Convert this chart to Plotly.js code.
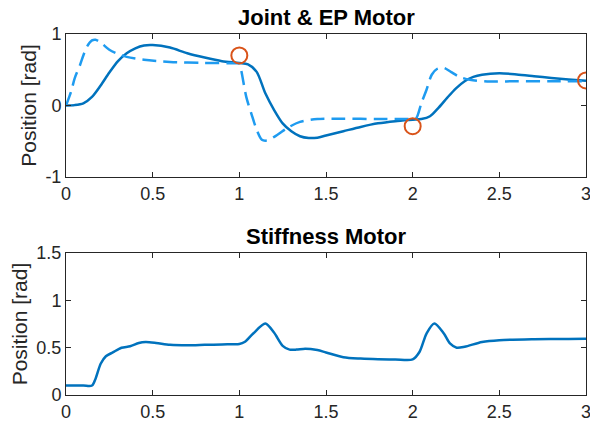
<!DOCTYPE html>
<html>
<head>
<meta charset="utf-8">
<script src="https://cdn.plot.ly/plotly-3.0.1.min.js"></script>
<style>html,body{margin:0;padding:0;background:#fff;}#chart{width:590px;height:427px;}</style>
</head>
<body>
<div id="chart"></div>
<script>
// Top subplot: joint position (solid)
const jointX = [0, 0.05, 0.1, 0.15, 0.2, 0.25, 0.3, 0.35, 0.4, 0.45, 0.5, 0.6, 0.7, 0.8, 0.9, 1.0, 1.05, 1.1, 1.15, 1.2, 1.25, 1.3, 1.35, 1.4, 1.45, 1.5, 1.6, 1.7, 1.8, 1.9, 2.0, 2.05, 2.1, 2.15, 2.2, 2.25, 2.3, 2.35, 2.4, 2.5, 2.6, 2.7, 2.8, 2.9, 3.0];
const jointY = [0, 0.005, 0.03, 0.12, 0.28, 0.46, 0.62, 0.73, 0.8, 0.84, 0.846, 0.81, 0.73, 0.67, 0.62, 0.595, 0.575, 0.47, 0.17, -0.06, -0.25, -0.36, -0.43, -0.455, -0.45, -0.42, -0.36, -0.3, -0.25, -0.22, -0.2, -0.19, -0.15, -0.03, 0.11, 0.24, 0.34, 0.4, 0.43, 0.45, 0.435, 0.41, 0.385, 0.365, 0.345];
// Top subplot: equilibrium-point motor (dashed)
const epX = [0, 0.03, 0.05, 0.08, 0.1, 0.12, 0.15, 0.17, 0.2, 0.25, 0.3, 0.35, 0.45, 0.6, 0.8, 0.98, 1.0, 1.01, 1.04, 1.07, 1.1, 1.13, 1.16, 1.22, 1.28, 1.35, 1.45, 1.6, 1.8, 1.95, 2.0, 2.02, 2.05, 2.08, 2.11, 2.14, 2.18, 2.22, 2.27, 2.33, 2.43, 2.6, 2.8, 3.0];
const epY = [0, 0.2, 0.38, 0.56, 0.7, 0.82, 0.91, 0.92, 0.88, 0.78, 0.72, 0.68, 0.64, 0.61, 0.595, 0.59, 0.585, 0.5, 0.12, -0.12, -0.34, -0.48, -0.49, -0.41, -0.31, -0.23, -0.19, -0.185, -0.19, -0.19, -0.19, -0.18, 0.03, 0.22, 0.43, 0.51, 0.525, 0.47, 0.4, 0.36, 0.335, 0.34, 0.34, 0.34];
// Top subplot: target points (circles)
const targetX = [1, 2, 3];
const targetY = [0.7, -0.29, 0.35];
// Bottom subplot: stiffness motor
const stiffX = [0, 0.1, 0.15, 0.17, 0.2, 0.23, 0.27, 0.32, 0.37, 0.42, 0.46, 0.52, 0.6, 0.7, 0.8, 0.9, 1.0, 1.03, 1.08, 1.15, 1.2, 1.25, 1.29, 1.33, 1.38, 1.45, 1.5, 1.6, 1.7, 1.8, 1.9, 2.0, 2.04, 2.08, 2.125, 2.18, 2.215, 2.254, 2.3, 2.4, 2.5, 2.7, 2.9, 3.0];
const stiffY = [0.1, 0.1, 0.1, 0.17, 0.33, 0.41, 0.45, 0.5, 0.515, 0.55, 0.56, 0.55, 0.53, 0.525, 0.53, 0.535, 0.54, 0.56, 0.65, 0.756, 0.66, 0.52, 0.48, 0.48, 0.49, 0.475, 0.45, 0.4, 0.385, 0.378, 0.376, 0.376, 0.457, 0.65, 0.756, 0.65, 0.545, 0.5, 0.51, 0.56, 0.58, 0.59, 0.593, 0.595];

const xTicks = [0, 0.5, 1, 1.5, 2, 2.5, 3];
const xTickText = ['0', '0.5', '1', '1.5', '2', '2.5', '3'];
const yTopTicks = [-1, 0, 1];
const yTopText = ['-1', '0', '1'];
const yBotTicks = [0, 0.5, 1, 1.5];
const yBotText = ['0', '0.5', '1', '1.5'];

const FONT = 'Liberation Sans, Arial, Helvetica, sans-serif';
const AX = '#262626';

const traces = [
  {x: jointX, y: jointY, xaxis: 'x', yaxis: 'y', mode: 'lines',
   line: {color: '#0072BD', width: 2.5, shape: 'spline', smoothing: 0.8}},
  {x: epX, y: epY, xaxis: 'x', yaxis: 'y', mode: 'lines',
   line: {color: '#1E9BF0', width: 2.5, dash: '14px,7px', shape: 'spline', smoothing: 0.8}},
  {x: targetX, y: targetY, xaxis: 'x', yaxis: 'y', mode: 'markers',
   marker: {symbol: 'circle-open', size: 16, color: '#D95319', line: {width: 2, color: '#D95319'}}},
  {x: stiffX, y: stiffY, xaxis: 'x2', yaxis: 'y2', mode: 'lines',
   line: {color: '#0072BD', width: 2.5, shape: 'spline', smoothing: 0.8}}
];

function xa(anchor) {
  return {range: [0, 3], tickvals: xTicks, ticktext: xTickText, anchor: anchor,
    showline: true, linecolor: AX, linewidth: 1, mirror: 'ticks', ticks: 'inside',
    ticklen: 5, tickcolor: AX, showgrid: false, zeroline: false, fixedrange: true,
    ticklabeloverflow: 'allow',
    tickfont: {family: FONT, size: 18, color: AX}};
}
function ya(anchor, range, tv, tt, dom) {
  return {range: range, tickvals: tv, ticktext: tt, anchor: anchor, domain: dom,
    showline: true, linecolor: AX, linewidth: 1, mirror: 'ticks', ticks: 'inside',
    ticklen: 5, tickcolor: AX, showgrid: false, zeroline: false, fixedrange: true,
    ticklabeloverflow: 'allow',
    tickfont: {family: FONT, size: 18, color: AX},
    title: {text: 'Position [rad]', font: {family: FONT, size: 21, color: AX}, standoff: 3}};
}

const layout = {
  width: 590, height: 427,
  margin: {l: 66, r: 4, t: 34, b: 32},
  paper_bgcolor: '#fff', plot_bgcolor: '#fff',
  showlegend: false,
  xaxis: xa('y'),
  yaxis: ya('x', [-1, 1], yTopTicks, yTopText, [0.604, 1]),
  xaxis2: xa('y2'),
  yaxis2: ya('x2', [0, 1.5], yBotTicks, yBotText, [0, 0.393]),
  annotations: [
    {text: '<b>Joint & EP Motor</b>', xref: 'paper', yref: 'paper', x: 0.5, y: 1, yshift: 2,
     xanchor: 'center', yanchor: 'bottom', showarrow: false, font: {family: FONT, size: 22, color: '#000'}},
    {text: '<b>Stiffness Motor</b>', xref: 'paper', yref: 'paper', x: 0.5, y: 0.393, yshift: 2,
     xanchor: 'center', yanchor: 'bottom', showarrow: false, font: {family: FONT, size: 22, color: '#000'}}
  ]
};

Plotly.newPlot('chart', traces, layout, {displayModeBar: false, staticPlot: true});
</script>
</body>
</html>
